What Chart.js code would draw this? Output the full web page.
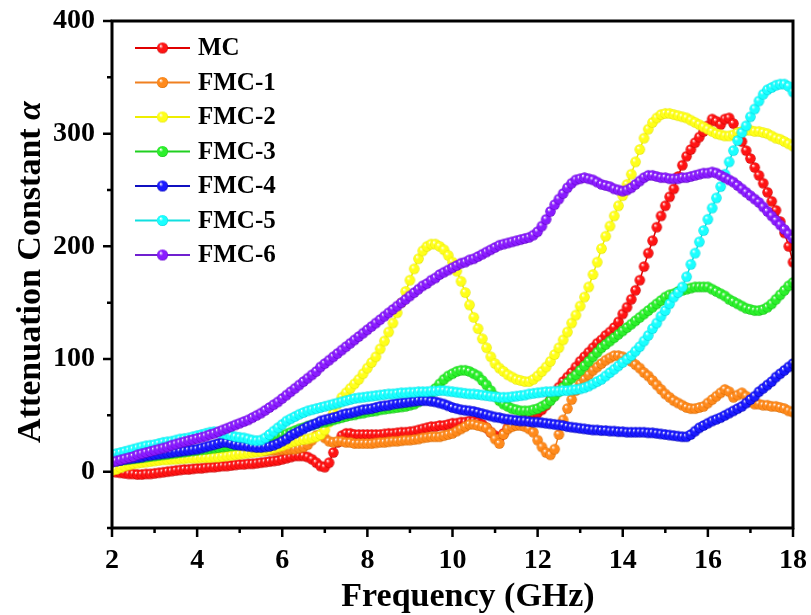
<!DOCTYPE html>
<html>
<head>
  <meta charset="utf-8">
  <title>Attenuation Constant</title>
  <style>
    html, body { margin: 0; padding: 0; background: #fff; }
    canvas { display: block; }
  </style>
</head>
<body>
  <canvas id="canvas" width="811" height="615"></canvas>

  <script src="https://cdn.jsdelivr.net/npm/chart.js"></script>

  <script>
    // Frequency grid: 2 - 18 GHz, one sample every 0.1 GHz (161 points per curve)
    const FREQ_START = 2;
    const FREQ_STEP = 0.1;

    const seriesNames = ['MC', 'FMC-1', 'FMC-2', 'FMC-3', 'FMC-4', 'FMC-5', 'FMC-6'];

    // one row per GHz (x.0 .. x.9), last value is 18.0 GHz
    const mc = [
      0, -0.5, -1, -1.5, -2, -2, -2.5, -2.5, -2, -2,
      -1.5, -1, -0.5, 0, 0.5, 1, 1.5, 2, 2, 2.5,
      3, 3, 3.5, 4, 4, 4.5, 5, 5, 5.5, 6,
      6.5, 6.5, 7, 7, 7.5, 8, 8.5, 9, 9.5, 10,
      11, 12, 13, 14, 14, 14, 13, 11, 8, 5,
      4, 8, 17, 26, 32, 34, 34, 33, 33, 33,
      33, 33, 33, 33, 33.5, 34, 34, 34.5, 35, 35,
      35.5, 36, 37, 38, 39, 40, 40, 41, 41, 42,
      43, 43, 44, 44, 45, 45, 44, 42, 39, 35,
      32, 30, 34, 39, 42, 44, 45, 47, 48, 50,
      52, 55, 59, 64, 70, 75, 80, 84, 88, 93,
      98, 102, 106, 110, 114, 117, 121, 124, 128, 133,
      140, 146, 153, 161, 170, 182, 194, 205, 217, 227,
      236, 244, 251, 262, 272, 280, 286, 292, 297, 302,
      307, 313, 311, 308, 313, 314, 309, 301, 293, 285,
      278, 270, 263, 256, 248, 240, 232, 222, 212, 200,
      186
    ];

    const fmc1 = [
      3, 4, 5, 6, 7, 8, 9, 10, 10.5, 11,
      12, 12.5, 13, 14, 14.5, 15, 15.5, 16, 16.5, 17,
      17, 17.5, 18, 18, 18, 18.5, 18.5, 18.5, 18.5, 18.5,
      18.5, 18.5, 18.5, 18.5, 18.5, 18.5, 18.5, 19, 19, 19,
      19.5, 19.5, 20, 20, 21, 22, 24, 28, 32, 33,
      30, 27, 26, 27, 27, 26, 26, 25, 25, 25,
      25, 25, 25.5, 26, 26, 26.5, 27, 27, 27.5, 28,
      28, 28.5, 29, 30, 30.5, 31, 31, 31, 32, 33,
      34, 36, 38, 40, 42, 42, 41, 40, 39, 35,
      29, 25, 33, 38, 40, 41, 41, 40, 38, 35,
      28, 22, 17, 15, 20, 33, 46, 56, 64, 72,
      78, 82, 86, 90, 93, 96, 99, 101, 103, 103,
      102, 100, 98, 95, 92, 88, 85, 81, 77, 73,
      69, 66, 63, 61, 59, 57, 56, 56, 57, 58,
      61, 64, 67, 70, 73, 71, 66, 68, 70, 67,
      62, 60, 60, 59, 59, 58, 58, 57, 56, 54,
      53
    ];

    const fmc2 = [
      1, 2, 3.5, 5, 6, 7, 7.5, 8, 8.5, 9,
      9.5, 10, 10.5, 10.5, 11, 11, 11.5, 11.5, 12, 12,
      12, 12.5, 12.5, 12.5, 13, 13, 13.5, 14, 14.5, 15,
      15.5, 16, 16.5, 17, 17.5, 18, 19, 20, 21, 22,
      23, 24.5, 26, 27, 28, 28.5, 29, 30, 31, 33,
      37, 44, 52, 60, 66, 70, 74, 78, 82, 87,
      92, 97, 102, 109, 116, 124, 132, 141, 150, 160,
      170, 180, 189, 196, 200, 202, 202, 200, 197, 192,
      186, 178, 169, 159, 148, 137, 127, 118, 110, 102,
      96, 92, 89, 86, 84, 82, 81, 80, 80, 82,
      85, 89, 93, 98, 104, 110, 117, 124, 132, 139,
      147, 155, 164, 175, 186, 198, 209, 218, 227, 236,
      245, 255, 264, 275, 286, 296, 304, 310, 314, 317,
      318, 318, 317, 316, 315, 314, 312, 310, 308, 306,
      304, 302, 300, 299, 298, 298, 299, 301, 302, 303,
      303, 302, 302, 301, 300, 298, 296, 295, 293, 291,
      289
    ];

    const fmc3 = [
      9, 9.5, 10, 10.5, 11, 11.5, 12, 12.5, 13, 13.5,
      14, 14.5, 15, 15.5, 16, 16.5, 17, 17.5, 18, 18.5,
      19, 19.5, 20, 20.5, 21, 21.5, 22, 22.5, 23, 23.5,
      24, 24.5, 25, 25.5, 26, 27, 28, 29, 30, 31,
      32, 33.5, 35, 36.5, 38, 39, 40.5, 41.5, 42.5, 43.5,
      44, 45, 46, 47, 48, 49, 50, 50.5, 51.5, 52,
      53, 53.5, 54, 55, 55.5, 56, 56.5, 57, 57.5, 58,
      59, 60, 62, 64, 67, 70, 74, 78, 82, 85,
      87, 89, 90, 90, 89, 87, 85, 81, 77, 72,
      67, 63, 60, 58, 56, 55, 54, 54, 54, 55,
      56, 58, 60, 63, 67, 71, 75, 79, 83, 86,
      90, 94, 98, 102, 106, 110, 113, 116, 119, 122,
      125, 128, 131, 134, 137, 140, 143, 146, 149, 152,
      155, 157, 158, 160, 161, 162, 163, 164, 164, 164,
      164, 162, 160, 158, 156, 153, 151, 149, 147, 145,
      144, 143, 143, 144, 146, 149, 153, 157, 161, 165,
      168
    ];

    const fmc4 = [
      9, 9.5, 10, 11, 11.5, 12, 12.5, 13, 14, 14.5,
      15, 15.5, 16, 16.5, 17, 17.5, 18, 18.5, 19, 19.5,
      20, 21, 22, 23, 24, 25, 26, 26, 25, 24,
      23.5, 23, 22.5, 22, 21.5, 21.5, 22, 22.5, 23.5, 25,
      27, 29, 32, 34, 36, 38, 40, 41.5, 43, 45,
      46, 47, 48, 49, 50.5, 51.5, 52, 53, 54, 55,
      55.5, 56, 57, 58, 58.5, 59, 60, 60.5, 61, 61.5,
      62, 62.5, 63, 63, 63, 62.5, 62, 61, 60, 58.5,
      57, 56, 55, 54.5, 54, 53.5, 52.5, 51.5, 50.5, 49.5,
      48.5, 48, 47, 46.5, 46, 45.5, 45, 45, 44.5, 44,
      44, 43.5, 43, 42.5, 42, 41.5, 41, 40, 39.5, 39,
      38.5, 38, 37.5, 37, 37, 36.5, 36.5, 36, 36, 35.5,
      35.5, 35, 35, 35, 35, 35, 34.5, 34.5, 34, 33.5,
      33, 32.5, 32, 31.5, 31, 31, 33, 36, 39, 41,
      43, 45, 46.5, 48, 50, 52, 54, 56, 58, 61,
      64, 67, 71, 74, 77, 80, 84, 87, 90, 93,
      96
    ];

    const fmc5 = [
      15, 16, 17, 18, 19, 20, 21, 22, 23, 23.5,
      24, 25, 26, 26.5, 27, 28, 29, 29.5, 30, 31,
      32, 33, 34, 35, 35.5, 35, 34, 33, 32, 31,
      30.5, 30, 29, 28, 27.5, 28, 30, 33, 36, 39,
      42, 45, 47, 49, 51, 52.5, 54, 55, 56, 57,
      58, 59, 60, 61, 62, 63, 64, 65, 65.5, 66,
      66.5, 67, 67.5, 68, 68.5, 69, 69, 69.5, 70, 70,
      70.5, 70.5, 71, 71, 71, 71.5, 71.5, 72, 72, 71.5,
      71, 70.5, 70, 69.5, 69, 69, 68.5, 68, 67.5, 67,
      66.5, 66, 66, 66, 66.5, 67, 67.5, 68, 69, 69.5,
      70, 70.5, 71, 71, 71.5, 71.5, 72, 72, 72.5, 73,
      73.5, 74.5, 76, 78, 80, 82, 85, 88, 91, 94,
      97, 100, 103, 107, 111, 116, 121, 127, 132, 138,
      143, 149, 155, 159, 164, 173, 184, 194, 204, 214,
      224, 234, 243, 253, 264, 275, 285, 294, 301, 307,
      315, 322, 329, 335, 339, 341, 343, 344, 344, 342,
      337
    ];

    const fmc6 = [
      8.5, 9.5, 10.5, 11.5, 12.5, 13.5, 15, 16, 17, 18,
      19, 20, 21, 22, 23.5, 24.5, 25.5, 26.5, 27.5, 28.5,
      29.5, 30.5, 31.5, 33, 34, 35.5, 37, 38.5, 40, 41.5,
      43, 44.5, 46, 48, 50, 52, 54.5, 57, 59.5, 62,
      65, 68, 71, 74, 77, 80, 83, 86, 89, 93,
      96, 99, 102, 105, 108, 111, 114, 117, 120, 123,
      126, 129, 132, 135, 138, 141, 144, 147, 150, 153,
      156, 159, 162, 165, 167, 170, 172, 175, 177, 179,
      181, 183, 185, 186, 188, 189, 191, 193, 195, 197,
      199, 201, 202, 203, 204, 205, 206, 207, 208, 210,
      213, 218, 224, 231, 237, 242, 247, 252, 256, 259,
      260, 261, 260, 259, 257, 255, 254, 253, 251, 250,
      249, 250, 252, 255, 258, 261, 263, 263, 262, 261,
      261, 260, 260, 260, 261, 261, 262, 263, 264, 265,
      265, 266, 265, 263, 261, 259, 257, 254, 251, 248,
      245, 242, 239, 235, 231, 227, 223, 219, 215, 211,
      207
    ];

    const seriesValues = [mc, fmc1, fmc2, fmc3, fmc4, fmc5, fmc6];

    const xTicks = [2, 4, 6, 8, 10, 12, 14, 16, 18];
    const yTicks = [0, 100, 200, 300, 400];

    // marker fill, rim shade and legend line colour per curve
    const palette = [
      { fill: '#ff1414', rim: '#c40000', line: '#e00000' },
      { fill: '#ff8a1c', rim: '#d86a00', line: '#f08020' },
      { fill: '#ffff1a', rim: '#e2e200', line: '#eeee00' },
      { fill: '#2cf02c', rim: '#10c010', line: '#20d020' },
      { fill: '#1a1aff', rim: '#0000b4', line: '#1010c0' },
      { fill: '#1affff', rim: '#00d4dc', line: '#10e0e0' },
      { fill: '#8a1cff', rim: '#5f00c4', line: '#7020d0' }
    ];

    const FONT = '"Liberation Serif", "Times New Roman", serif';

    // small shaded ball used as the marker of every point
    function makeBall(c, r) {
      const size = Math.ceil(r * 2) + 2;
      const cv = document.createElement('canvas');
      cv.width = cv.height = size;
      const g = cv.getContext('2d');
      const m = size / 2;
      const grad = g.createRadialGradient(m - r * 0.35, m - r * 0.4, 0.2, m, m, r);
      grad.addColorStop(0, '#ffffff');
      grad.addColorStop(0.35, c.fill);
      grad.addColorStop(0.85, c.fill);
      grad.addColorStop(1, c.rim);
      g.fillStyle = grad;
      g.beginPath();
      g.arc(m, m, r, 0, Math.PI * 2);
      g.fill();
      return cv;
    }

    const balls = palette.map(c => makeBall(c, 5.2));
    const legendBalls = palette.map(c => makeBall(c, 5.5));

    const datasets = seriesNames.map((name, i) => ({
      label: name,
      data: seriesValues[i].map((v, k) => ({ x: +(FREQ_START + k * FREQ_STEP).toFixed(1), y: v })),
      borderColor: palette[i].line,
      borderWidth: 1.5,
      pointStyle: balls[i],
      pointRadius: 5.2,
      showLine: true,
      clip: 0,
      order: seriesNames.length - i   // later curves sit on top
    }));

    // no extra room for the end labels, the plot box is fixed
    function noLabelPadding(s) {
      s.paddingLeft = 0;
      s.paddingRight = 0;
      s.paddingTop = 0;
      s.paddingBottom = 0;
    }

    // box, tick marks, axis titles and legend
    const decorations = {
      id: 'decorations',
      afterDraw(chart) {
        const { ctx, chartArea: a, scales: { x, y } } = chart;
        ctx.save();

        // tick marks: even GHz long, odd GHz short
        ctx.strokeStyle = '#000';
        ctx.lineWidth = 2.5;
        ctx.beginPath();
        for (let f = 2; f <= 18; f++) {
          const px = x.getPixelForValue(f);
          ctx.moveTo(px, a.bottom);
          ctx.lineTo(px, a.bottom + (f % 2 === 0 ? 9 : 5));
        }
        for (let v = -50; v <= 400; v += 50) {
          const py = y.getPixelForValue(v);
          ctx.moveTo(a.left, py);
          ctx.lineTo(a.left - (v % 100 === 0 ? 9 : 5), py);
        }
        ctx.stroke();

        // frame
        ctx.lineWidth = 3;
        ctx.strokeRect(a.left, a.top, a.right - a.left, a.bottom - a.top);

        // axis titles
        ctx.fillStyle = '#000';
        ctx.textBaseline = 'alphabetic';
        ctx.textAlign = 'left';
        const boldFont = 'bold 34px ' + FONT;
        const italicFont = 'italic bold 34px ' + FONT;

        ctx.font = boldFont;
        const xt = 'Frequency (GHz)';
        const xw = ctx.measureText(xt).width;
        ctx.fillText(xt, 468 - xw / 2, 606);

        const yt1 = 'Attenuation Constant ';
        const yt2 = 'α';
        ctx.font = boldFont;
        const w1 = ctx.measureText(yt1).width;
        ctx.font = italicFont;
        const w2 = ctx.measureText(yt2).width;
        ctx.translate(40, 272);
        ctx.rotate(-Math.PI / 2);
        ctx.font = boldFont;
        ctx.fillText(yt1, -(w1 + w2) / 2, 0);
        ctx.font = italicFont;
        ctx.fillText(yt2, -(w1 + w2) / 2 + w1, 0);
        ctx.setTransform(1, 0, 0, 1, 0, 0);

        // legend inside the plot
        ctx.font = 'bold 25px ' + FONT;
        ctx.textBaseline = 'middle';
        chart.data.datasets.forEach((ds, i) => {
          const ly = a.top + 27 + i * 34.5;
          const lx = a.left + 23;
          ctx.strokeStyle = palette[i].line;
          ctx.lineWidth = 2;
          ctx.beginPath();
          ctx.moveTo(lx, ly);
          ctx.lineTo(lx + 55, ly);
          ctx.stroke();
          const b = legendBalls[i];
          ctx.drawImage(b, lx + 27.5 - b.width / 2, ly - b.height / 2);
          ctx.fillStyle = '#000';
          ctx.fillText(ds.label, lx + 63, ly + 1);
        });

        ctx.restore();
      }
    };

    const ctx = document.getElementById('canvas').getContext('2d');

    const chart = new Chart(ctx, {
      type: 'line',
      data: { datasets: datasets },
      options: {
        responsive: false,
        animation: false,
        layout: { padding: { left: 0, right: 18, top: 21, bottom: 0 } },
        plugins: {
          legend: { display: false },
          tooltip: { enabled: false }
        },
        scales: {
          x: {
            type: 'linear',
            min: 2,
            max: 18,
            afterBuildTicks: s => { s.ticks = xTicks.map(v => ({ value: v })); },
            afterFit: s => { s.height = 87; noLabelPadding(s); },
            grid: { display: false, drawTicks: false },
            border: { display: false },
            ticks: {
              color: '#000',
              font: { family: FONT, size: 28, weight: 'bold' },
              padding: 16,
              maxRotation: 0,
              autoSkip: false
            }
          },
          y: {
            type: 'linear',
            min: -50,
            max: 400,
            afterBuildTicks: s => { s.ticks = yTicks.map(v => ({ value: v })); },
            afterFit: s => { s.width = 112; noLabelPadding(s); },
            grid: { display: false, drawTicks: false },
            border: { display: false },
            ticks: {
              color: '#000',
              font: { family: FONT, size: 28, weight: 'bold' },
              padding: 17,
              autoSkip: false
            }
          }
        }
      },
      plugins: [decorations]
    });
  </script>
</body>
</html>
